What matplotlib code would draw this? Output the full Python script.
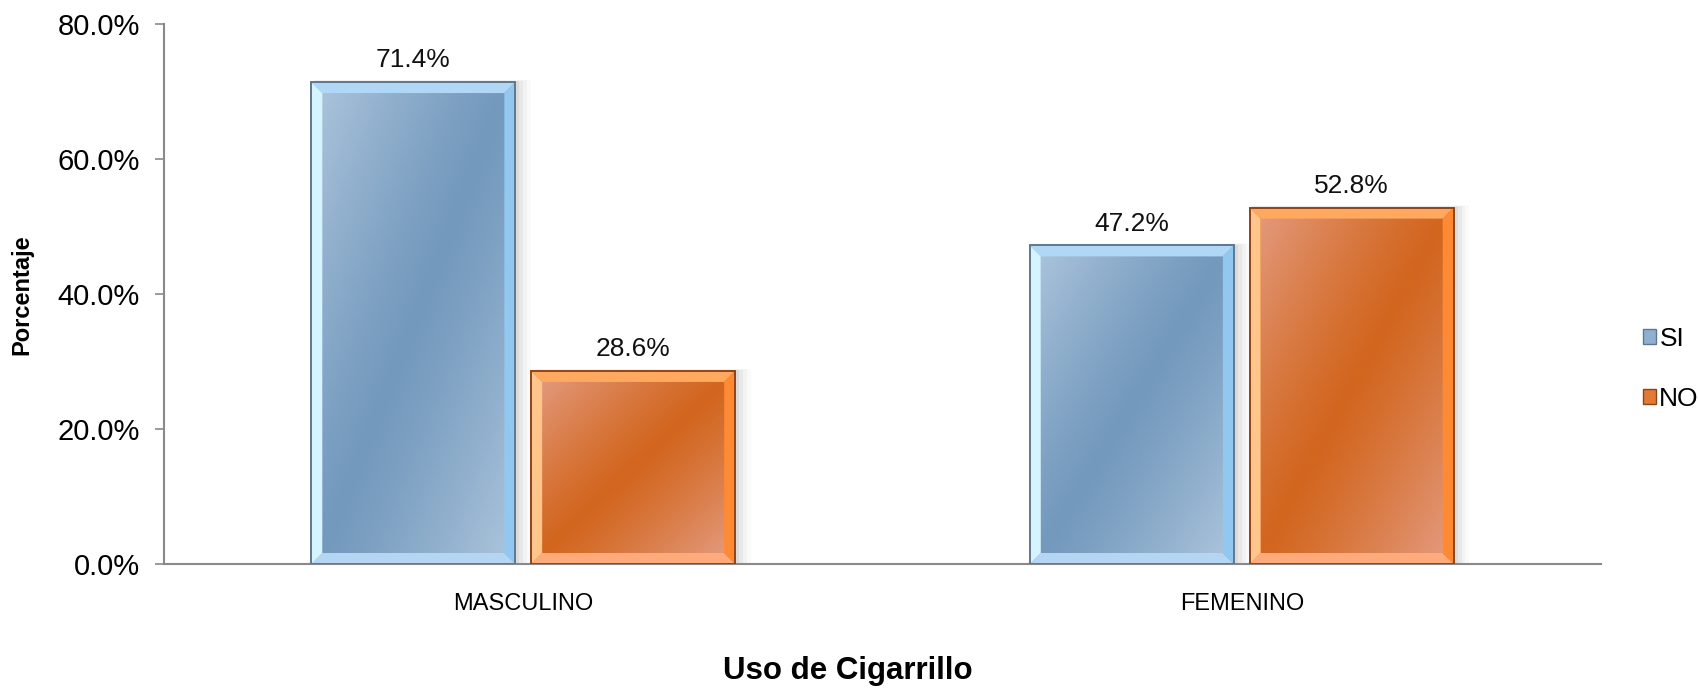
import numpy as np
import matplotlib
matplotlib.use("Agg")
import matplotlib.pyplot as plt
from matplotlib.patches import Rectangle, Polygon, Patch
from matplotlib.colors import to_rgb

plt.rcParams['font.family'] = ['Liberation Sans', 'DejaVu Sans']

# data
categories = ["MASCULINO", "FEMENINO"]
series_names = ["SI", "NO"]
si_values = [71.4, 47.2]
no_values = [28.6, 52.8]

# styles: (light, dark, bevel left, top, right, bottom, outline)
styles = {
    "SI": ("#a9c2da", "#7399bd", "#d6f4ff", "#b0d8f6", "#92c8f0", "#b5d6f2", "#5f7890"),
    "NO": ("#e3987a", "#d2661f", "#ffc58a", "#ffa860", "#ff8a33", "#ffaa7a", "#8f4418"),
}

fig = plt.figure(figsize=(16.98, 6.88), dpi=100)
ax = fig.add_axes([164 / 1698, 1 - 564 / 688, (1601 - 164) / 1698, 540 / 688])

width = 0.284
offset = 0.153
dx = 11 / 718.5
dy = 11 * 80 / 540

x = np.arange(len(categories))


def gradient_img(light, dark, n=120):
    u = np.linspace(0, 1, n)
    v = np.linspace(0, 1, n)
    U, V = np.meshgrid(u, v)
    s = (U - V + 1) / 2
    t = np.abs(2 * s - 1) ** 1.2
    l = np.array(to_rgb(light))
    d = np.array(to_rgb(dark))
    return d[None, None, :] + (l - d)[None, None, :] * t[:, :, None]


def fancy_bar(xc, h, name):
    light, dark, bl, bt, br, bb, oc = styles[name]
    x0, x1 = xc - width / 2, xc + width / 2
    y0, y1 = 0, h
    # soft shadow
    for k, a in enumerate([0.05, 0.04, 0.03, 0.02]):
        ex = (3 + 3 * k) / 718.5
        ey = (3 + 3 * k) * 80 / 540
        ax.add_patch(Rectangle((x0 + ex * 0.3, y0), width + ex, h + ey * 0.2,
                               facecolor="black", edgecolor="none", alpha=a, zorder=1))
    ax.bar(xc, h, width, color=dark, edgecolor="none", zorder=2)
    ix0, ix1, iy0, iy1 = x0 + dx, x1 - dx, y0 + dy, y1 - dy
    ax.imshow(gradient_img(light, dark), extent=(ix0, ix1, iy0, iy1),
              origin="lower", aspect="auto", zorder=3, interpolation="bilinear")
    # bevels
    ax.add_patch(Polygon([(x0, y1), (x1, y1), (ix1, iy1), (ix0, iy1)], closed=True,
                         facecolor=bt, edgecolor="none", zorder=3))
    ax.add_patch(Polygon([(x0, y0), (x1, y0), (ix1, iy0), (ix0, iy0)], closed=True,
                         facecolor=bb, edgecolor="none", zorder=3))
    ax.add_patch(Polygon([(x0, y0), (x0, y1), (ix0, iy1), (ix0, iy0)], closed=True,
                         facecolor=bl, edgecolor="none", zorder=3))
    ax.add_patch(Polygon([(x1, y0), (x1, y1), (ix1, iy1), (ix1, iy0)], closed=True,
                         facecolor=br, edgecolor="none", zorder=3))
    ax.add_patch(Rectangle((x0, y0), width, h, facecolor="none", edgecolor=oc,
                           linewidth=1.4, zorder=4))
    ax.annotate(f"{h:.1f}%", (xc, h), xytext=(0, 7), textcoords="offset points",
                ha="center", va="bottom", fontsize=19, color="#111111")


for i in range(len(categories)):
    fancy_bar(x[i] - offset, si_values[i], "SI")
    fancy_bar(x[i] + offset, no_values[i], "NO")

ax.set_xlim(-0.5, 1.5)
ax.set_ylim(0, 80)
ax.set_yticks([0, 20, 40, 60, 80])
ax.set_yticklabels([f"{v:.1f}%" for v in [0, 20, 40, 60, 80]], fontsize=21)
ax.set_xticks(x)
ax.set_xticklabels(categories, fontsize=17)
ax.tick_params(axis="x", length=0, pad=21)
ax.tick_params(axis="y", length=6.5, width=1.2, color="#898989", pad=11)
for side in ["top", "right"]:
    ax.spines[side].set_visible(False)
for side in ["left", "bottom"]:
    ax.spines[side].set_color("#898989")
    ax.spines[side].set_linewidth(1.5)

fig.text(22 / 1698, 1 - 295 / 688, "Porcentaje", rotation=90, fontsize=17,
         fontweight="bold", ha="center", va="center")
fig.text(848 / 1698, 1 - 671 / 688, "Uso de Cigarrillo", fontsize=22.5,
         fontweight="bold", ha="center", va="center")

handles = [Patch(facecolor="#8fb0d0", edgecolor="#5f7890", label="SI"),
           Patch(facecolor="#e07a35", edgecolor="#8f4418", label="NO")]
fig.legend(handles=handles, loc="center left", bbox_to_anchor=(1643 / 1698, 1 - 369 / 688),
           frameon=False, fontsize=19, handlelength=0.5, handleheight=0.5,
           handletextpad=0.12, labelspacing=1.38, borderaxespad=0, borderpad=0)

fig.savefig("out.png", dpi=100)
